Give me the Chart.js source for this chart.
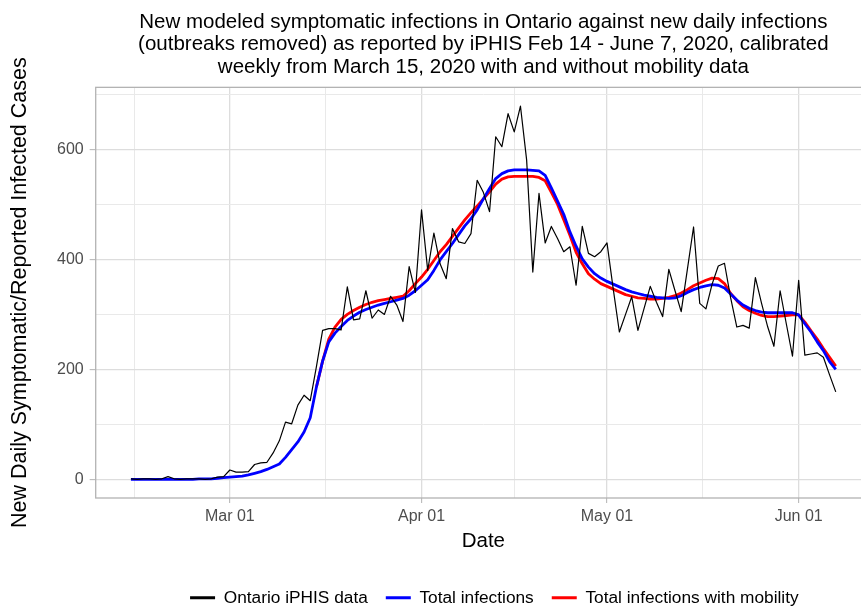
<!DOCTYPE html>
<html>
<head>
<meta charset="utf-8">
<script src="https://cdn.jsdelivr.net/npm/chart.js@4.4.1/dist/chart.umd.min.js"></script>
<style>
  html, body { margin: 0; padding: 0; background: #ffffff; overflow: hidden; }
  #wrap { width: 861px; height: 609px; overflow: hidden; }
  canvas { display: block; }
</style>
</head>
<body>
<div id="wrap"><canvas id="chart" width="880" height="620"></canvas></div>
<script>
// Daily series, one value per day starting 2020-02-14 and ending 2020-06-07
const firstDate = '2020-02-14';

// Ontario iPHIS reported new daily cases (outbreaks removed)
const reportedCases = [
  1, 0, 1, 1, 0, 1, 5, 1, 0, 1,
  1, 1, 0, 1, 4, 5, 17, 13, 13, 14,
  27, 30, 31, 48, 70, 104, 101, 135, 153, 143,
  205, 271, 274, 274, 272, 350, 290, 292, 343, 293,
  308, 300, 333, 317, 287, 387, 340, 490, 380, 448,
  392, 365, 456, 432, 429, 447, 544, 522, 487, 623,
  605, 665, 632, 679, 581, 377, 520, 430, 460, 438,
  414, 423, 353, 460, 411, 405, 414, 430, 347, 268,
  300, 332, 271, 311, 351, 322, 296, 382, 343, 305,
  382, 459, 320, 310, 355, 388, 393, 330, 277, 280,
  275, 367, 320, 277, 242, 343, 283, 224, 362, 226,
  228, 230, 222, 190, 159
];

// Modeled new symptomatic infections, calibrated weekly
const totalInfections = [
  0, 0, 0, 0, 0, 0, 0, 0, 0, 0,
  0, 1, 1, 1, 2, 3, 4, 5, 6, 8,
  11, 14, 18, 23, 28, 40, 54, 68, 86, 112,
  168, 215, 250, 266, 278, 289, 297, 304, 309, 313,
  317, 320, 323, 326, 329, 335, 343, 353, 363, 380,
  399, 414, 429, 445, 461, 474, 490, 510, 529, 547,
  556, 561, 563, 563, 563, 562, 561, 553, 530, 506,
  482, 450, 424, 401, 386, 374, 366, 360, 355, 350,
  345, 341, 338, 335, 333, 331, 330, 329, 330, 334,
  340, 345, 349, 352, 354, 353, 348, 337, 326, 317,
  311, 307, 304, 303, 303, 303, 303, 303, 299, 283,
  268, 250, 234, 214, 200
];

// Modeled infections using mobility data, from 2020-03-15 onward
const withMobility = [
  null, null, null, null, null, null, null, null, null, null,
  null, null, null, null, null, null, null, null, null, null,
  null, null, null, null, null, null, null, null, null, null,
  168, 215, 255, 277, 291, 300, 307, 313, 318, 322,
  325, 327, 329, 331, 333, 343, 356, 368, 382, 398,
  414, 427, 442, 457, 472, 485, 497, 510, 523, 537,
  546, 550, 551, 551, 551, 551, 549, 543, 522, 500,
  472, 444, 413, 392, 374, 364, 356, 351, 346, 341,
  336, 333, 330, 329, 328, 328, 329, 331, 334, 339,
  345, 352, 357, 362, 366, 365, 356, 338, 325, 314,
  307, 302, 298, 296, 296, 297, 298, 299, 299, 286,
  270, 255, 238, 222, 206
];

const seriesNames = ['Ontario iPHIS data', 'Total infections', 'Total infections with mobility'];
const seriesColors = ['#000000', '#0000FF', '#FF0000'];

// Axis breaks
const majorDates = ['2020-03-01', '2020-04-01', '2020-05-01', '2020-06-01'];
const majorDateLabels = ['Mar 01', 'Apr 01', 'May 01', 'Jun 01'];
const yMajor = [0, 200, 400, 600];

const chartTitle = [
  'New modeled symptomatic infections in Ontario against new daily infections',
  '(outbreaks removed) as reported by iPHIS Feb 14 - June 7, 2020, calibrated',
  'weekly from March 15, 2020 with and without mobility data'
];
const xTitle = 'Date';
const yTitle = 'New Daily Symptomatic/Reported Infected Cases';

// ---- derived helpers ----
const DAY = 86400000;
const dayOf = s => Math.round((Date.parse(s) - Date.parse(firstDate)) / DAY);
const days = reportedCases.map((_, i) => i);
const xMajor = majorDates.map(dayOf);
const xLabelOf = new Map(xMajor.map((d, i) => [d, majorDateLabels[i]]));

// minor breaks sit halfway between major breaks (one extra break before the first)
function midBreaks(b) {
  const ext = [b[0] - (b[1] - b[0]), ...b];
  const out = [];
  for (let i = 1; i < ext.length; i++) out.push((ext[i - 1] + ext[i]) / 2);
  return out;
}
const xMinor = midBreaks(xMajor);
const yMinor = midBreaks(yMajor).filter(v => v >= 0).concat([yMajor[yMajor.length - 1] + (yMajor[1] - yMajor[0]) / 2]);

// 5% padding on both sides of the data range
const xSpan = days[days.length - 1] - days[0];
const xMin = days[0] - 0.05 * xSpan;
const xMax = days[days.length - 1] + 0.05 * xSpan;
const allValues = reportedCases.concat(totalInfections, withMobility.filter(v => v !== null));
const yLo = Math.min(...allValues), yHi = Math.max(...allValues);
const yMin = yLo - 0.05 * (yHi - yLo);
const yMax = yHi + 0.05 * (yHi - yLo);

const FONT = "'Liberation Sans', Arial, Helvetica, sans-serif";
const GRID_MAJOR = '#DDDDDD';
const GRID_MINOR = '#E9E9E9';
const TICK_COLOR = '#B3B3B3';
const LEGEND_SHIFT = 11;   // legend row sits a little right of the panel centre

const xMajorSet = new Set(xMajor);
const yMajorSet = new Set(yMajor);

// Panel frame and centring of title/legend over the plotting panel
const panelFrame = {
  id: 'panelFrame',
  afterLayout(chart) {
    const a = chart.chartArea;
    if (chart.titleBlock) { chart.titleBlock.left = a.left; chart.titleBlock.right = a.right; }
    if (chart.legend) { chart.legend.left = a.left + LEGEND_SHIFT; chart.legend.right = a.right + LEGEND_SHIFT; }
  },
  afterDatasetsDraw(chart) {
    const { ctx, chartArea: a } = chart;
    ctx.save();
    ctx.strokeStyle = '#B3B3B3';
    ctx.lineWidth = 1.3;
    ctx.strokeRect(a.left, a.top, a.right - a.left, a.bottom - a.top);
    ctx.restore();
  }
};

const lineSets = [reportedCases, totalInfections, withMobility].map((data, i) => ({
  label: seriesNames[i],
  data,
  borderColor: seriesColors[i],
  backgroundColor: seriesColors[i],
  borderWidth: i === 0 ? 1.2 : 2.8,
  pointRadius: 0,
  tension: 0,
  fill: false,
  borderJoinStyle: 'round',
  order: i
}));

new Chart(document.getElementById('chart'), {
  type: 'line',
  data: { labels: days, datasets: lineSets },
  plugins: [panelFrame],
  options: {
    responsive: false,
    animation: false,
    devicePixelRatio: 1,
    layout: { padding: { left: 0, right: 9, top: 0, bottom: 3.5 } },
    plugins: {
      title: {
        display: true,
        text: chartTitle,
        color: '#000000',
        font: { family: FONT, size: 20.5, weight: 'normal', lineHeight: 1.1 },
        padding: { top: 10.7, bottom: 9 }
      },
      legend: {
        position: 'bottom',
        labels: {
          boxWidth: 25,
          boxHeight: 3,
          padding: 18,
          color: '#000000',
          font: { family: FONT, size: 17.3 },
          sort: (a, b) => a.datasetIndex - b.datasetIndex,
          generateLabels: chart =>
            Chart.defaults.plugins.legend.labels.generateLabels(chart)
              .map(l => Object.assign(l, { lineWidth: 0 }))
        }
      },
      tooltip: { enabled: false }
    },
    scales: {
      x: {
        type: 'linear',
        min: xMin,
        max: xMax,
        afterBuildTicks: s => { s.ticks = xMinor.concat(xMajor).sort((a, b) => a - b).map(v => ({ value: v })); },
        afterFit: s => { s.height = 73.2; },
        border: { display: false },
        grid: {
          color: c => xMajorSet.has(c.tick && c.tick.value) ? GRID_MAJOR : GRID_MINOR,
          lineWidth: c => xMajorSet.has(c.tick && c.tick.value) ? 1.3 : 1,
          tickColor: c => xMajorSet.has(c.tick && c.tick.value) ? TICK_COLOR : 'rgba(0,0,0,0)',
          tickLength: 5,
          tickWidth: 1
        },
        ticks: {
          autoSkip: false,
          maxRotation: 0,
          padding: 4,
          color: '#4D4D4D',
          font: { family: FONT, size: 16 },
          callback: v => xLabelOf.get(v) || ''
        },
        title: {
          display: true,
          text: xTitle,
          color: '#000000',
          font: { family: FONT, size: 20.5, lineHeight: 1.2 },
          padding: { top: 0, bottom: 17.5 }
        }
      },
      y: {
        type: 'linear',
        min: yMin,
        max: yMax,
        afterBuildTicks: s => { s.ticks = yMinor.concat(yMajor).sort((a, b) => a - b).map(v => ({ value: v })); },
        afterFit: s => { s.width = 95.7; },
        border: { display: false },
        grid: {
          color: c => yMajorSet.has(c.tick && c.tick.value) ? GRID_MAJOR : GRID_MINOR,
          lineWidth: c => yMajorSet.has(c.tick && c.tick.value) ? 1.3 : 1,
          tickColor: c => yMajorSet.has(c.tick && c.tick.value) ? TICK_COLOR : 'rgba(0,0,0,0)',
          tickLength: 6,
          tickWidth: 1
        },
        ticks: {
          autoSkip: false,
          padding: 6,
          color: '#4D4D4D',
          font: { family: FONT, size: 16 },
          callback: v => yMajorSet.has(v) ? String(v) : ''
        },
        title: {
          display: true,
          text: yTitle,
          color: '#000000',
          font: { family: FONT, size: 21.5, lineHeight: 1.2 },
          padding: { top: 7, bottom: 0 }
        }
      }
    }
  }
});
</script>
</body>
</html>
